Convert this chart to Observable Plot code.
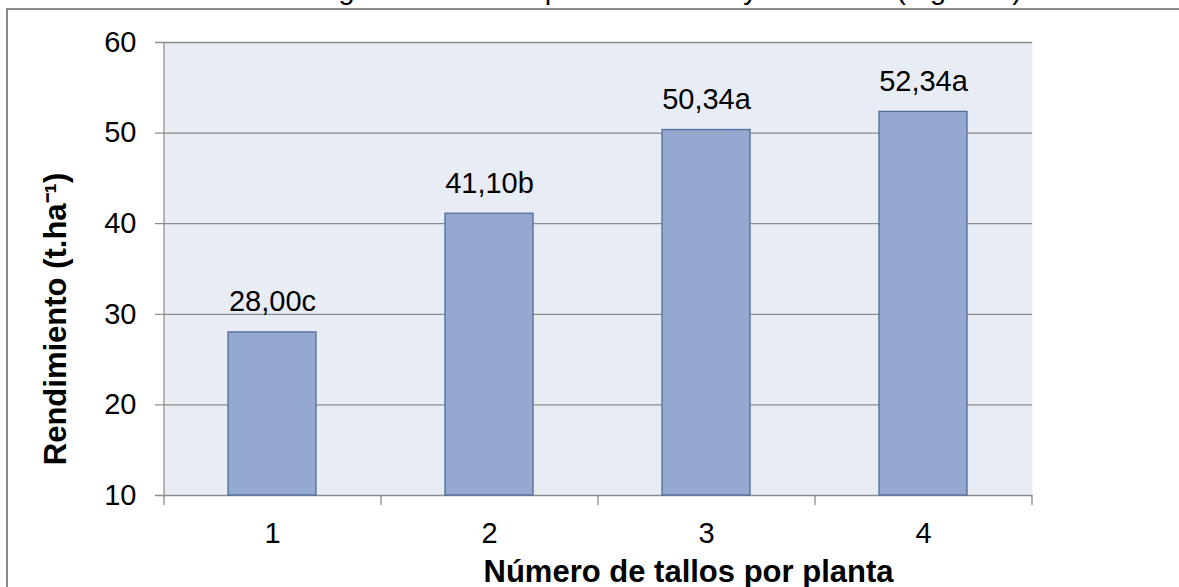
<!DOCTYPE html>
<html>
<head>
<meta charset="utf-8">
<script src="https://cdn.jsdelivr.net/npm/d3@7"></script>
<script src="https://cdn.jsdelivr.net/npm/@observablehq/plot@0.6"></script>
<style>
  html, body { margin: 0; padding: 0; background: #fff; overflow: hidden; width: 1179px; height: 587px; }
  body { position: relative; font-family: "Liberation Sans", Arial, sans-serif; color: #000; }
  #para { position: absolute; left: 0; top: 0; width: 1179px; height: 7px; overflow: hidden; }
  #para span { position: absolute; right: 157px; top: -25px; font-size: 29px; line-height: 29px; white-space: nowrap; }
  #box { position: absolute; left: 6px; top: 8px; width: 1300px; height: 700px; border-top: 2px solid #8a8a8a; border-left: 2px solid #8a8a8a; }
  #chart { position: absolute; left: 0; top: 0; }
</style>
</head>
<body>
<div id="para"><span>diferencias significativas con plantas de uno y dos tallos (Figura 2)</span></div>
<div id="box"></div>
<div id="chart"></div>
<script>
const categories = ["1", "2", "3", "4"];
const values = [28.00, 41.10, 50.34, 52.34];
const valueLabels = ["28,00c", "41,10b", "50,34a", "52,34a"];
const yTicks = [10, 20, 30, 40, 50, 60];
const yDomain = [10, 60];
const xTitle = "Número de tallos por planta";
const yTitle = "Rendimiento (t.ha⁻¹)";

const data = categories.map((c, i) => ({cat: c, value: values[i], label: valueLabels[i]}));

const W = 1179, H = 587;
const mL = 164, mR = 1179 - 1032, mT = 42, mB = H - 495;
const step = (W - mL - mR) / categories.length;
const grid = "#8c8c8c";

const chart = Plot.plot({
  width: W,
  height: H,
  marginLeft: mL,
  marginRight: mR,
  marginTop: mT,
  marginBottom: mB,
  style: {fontFamily: "Liberation Sans, Arial, sans-serif", color: "#000", background: "transparent", overflow: "visible"},
  x: {type: "band", domain: categories, paddingInner: 0.594, paddingOuter: 0.297, label: null},
  y: {domain: yDomain, label: null},
  marks: [
    Plot.frame({fill: "#e8ecf4", stroke: null}),
    Plot.ruleY(yTicks, {stroke: grid, strokeWidth: 1.3, insetLeft: -9}),
    Plot.ruleX([categories[0]], {dx: -step / 2, stroke: grid, strokeWidth: 1.3, insetBottom: -10}),
    Plot.ruleX(categories.slice(1), {x: d => d, y1: yDomain[0], y2: yDomain[0], dx: -step / 2, stroke: grid, strokeWidth: 1.3, insetBottom: -10}),
    Plot.ruleX(categories.slice(-1), {x: d => d, y1: yDomain[0], y2: yDomain[0], dx: step / 2, stroke: grid, strokeWidth: 1.3, insetBottom: -10}),
    Plot.barY(data, {x: "cat", y1: yDomain[0], y2: "value", fill: "#95a9d0", stroke: "#4f6d9c", strokeWidth: 1.3}),
    Plot.text(data, {x: "cat", y: "value", text: "label", dy: -21, lineAnchor: "bottom", fontSize: 29, fill: "#000"}),
    Plot.axisY(yTicks, {tickSize: 0, tickPadding: 28, fontSize: 29, label: null, fill: "#000"}),
    Plot.axisX({tickSize: 0, tickPadding: 27, fontSize: 29, label: null, fill: "#000"}),
    Plot.text([xTitle], {frameAnchor: "bottom", dx: 90, dy: 77, textAnchor: "middle", lineAnchor: "middle", fontSize: 31, fontWeight: "bold", fill: "#000"}),
    Plot.text([yTitle], {frameAnchor: "left", dx: -mL + 56, dy: 50, rotate: -90, textAnchor: "middle", lineAnchor: "middle", fontSize: 31, fontWeight: "bold", fill: "#000"})
  ]
});
document.getElementById("chart").append(chart);
</script>
</body>
</html>
